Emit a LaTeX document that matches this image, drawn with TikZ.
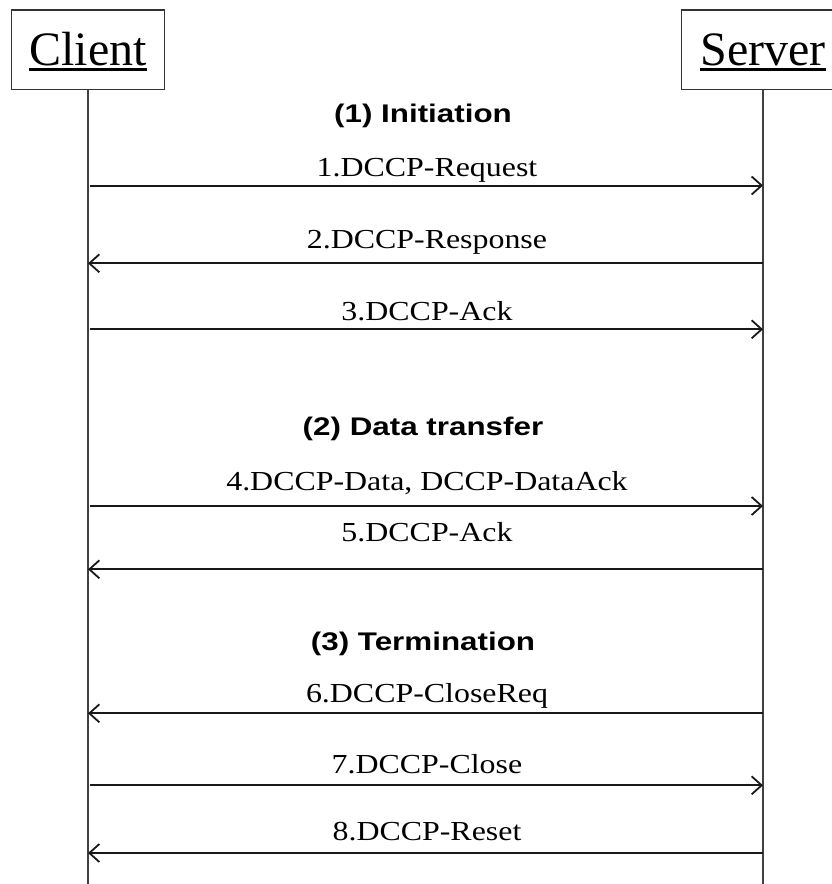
\documentclass[tikz,border=0pt]{standalone}
\usepackage{fontspec}
\setmainfont{Liberation Serif}
\newfontfamily\msgfont[FakeStretch=1.16]{Liberation Serif}
\newfontfamily\headfont[FakeStretch=1.23]{Liberation Sans}
\usetikzlibrary{arrows.meta}

% underlined object name with a heavy rule
\newcommand\ulword[1]{\setbox0=\hbox{#1}\rlap{\copy0}\rule[-6pt]{\wd0}{2.7pt}}

\tikzset{
  actor/.style={draw=black!80, line width=1.3pt, fill=white, inner sep=0pt,
    minimum height=79.3pt, text height=38.7pt, text depth=8pt,
    font=\fontsize{48}{52}\selectfont},
  lifeline/.style={draw=black!75, line width=1.3pt},
  msg/.style={draw=black!90, line width=2pt,
    -{Straight Barb[length=10pt,width=18pt,line width=1.8pt]}},
  msglabel/.style={anchor=base, inner sep=0pt,
    font=\msgfont\fontsize{27.5}{30}\selectfont},
  phase/.style={anchor=base, inner sep=0pt,
    font=\headfont\bfseries\fontsize{25.5}{28}\selectfont},
}

\begin{document}
\begin{tikzpicture}[x=1pt, y=-1pt]
  \useasboundingbox (0,0) rectangle (832,884);
  \clip (0,0) rectangle (832,884);

  % participants
  \node[actor, minimum width=152.6pt] (client) at (88,49.65) {\ulword{Client}};
  \node[actor, minimum width=162.6pt] (server) at (763,49.65) {\ulword{Server}};

  % lifelines
  \coordinate (cend) at (88,884);
  \coordinate (send) at (763,884);
  \draw[lifeline] (client.south) -- (cend);
  \draw[lifeline] (server.south) -- (send);

  % message anchor points on both lifelines
  \foreach \i/\y in {1/185.5, 2/263.3, 3/329.3, 4/506, 5/569.3, 6/713.3, 7/785.3, 8/853} {
    \coordinate (c\i) at (88,\y);
    \coordinate (s\i) at (763,\y);
  }

  % phase headings
  \node[phase] (ph1) at (423,122.7) {(1) Initiation};
  \node[phase] (ph2) at (423,435) {(2) Data transfer};
  \node[phase] (ph3) at (423,650.7) {(3) Termination};

  % messages
  \draw[msg, shorten <=1.5pt] (c1) -- (s1);
  \node[msglabel] (m1) at (427,176.7) {1.DCCP-Request};

  \draw[msg] (s2) -- (c2);
  \node[msglabel] (m2) at (427,248.3) {2.DCCP-Response};

  \draw[msg, shorten <=1.5pt] (c3) -- (s3);
  \node[msglabel] (m3) at (427,320) {3.DCCP-Ack};

  \draw[msg, shorten <=1.5pt] (c4) -- (s4);
  \node[msglabel] (m4) at (427,490.7) {4.DCCP-Data, DCCP-DataAck};

  \draw[msg] (s5) -- (c5);
  \node[msglabel] (m5) at (427,541.7) {5.DCCP-Ack};

  \draw[msg] (s6) -- (c6);
  \node[msglabel] (m6) at (427,702.3) {6.DCCP-CloseReq};

  \draw[msg, shorten <=1.5pt] (c7) -- (s7);
  \node[msglabel] (m7) at (427,773.3) {7.DCCP-Close};

  \draw[msg] (s8) -- (c8);
  \node[msglabel] (m8) at (427,840.7) {8.DCCP-Reset};
\end{tikzpicture}
\end{document}
